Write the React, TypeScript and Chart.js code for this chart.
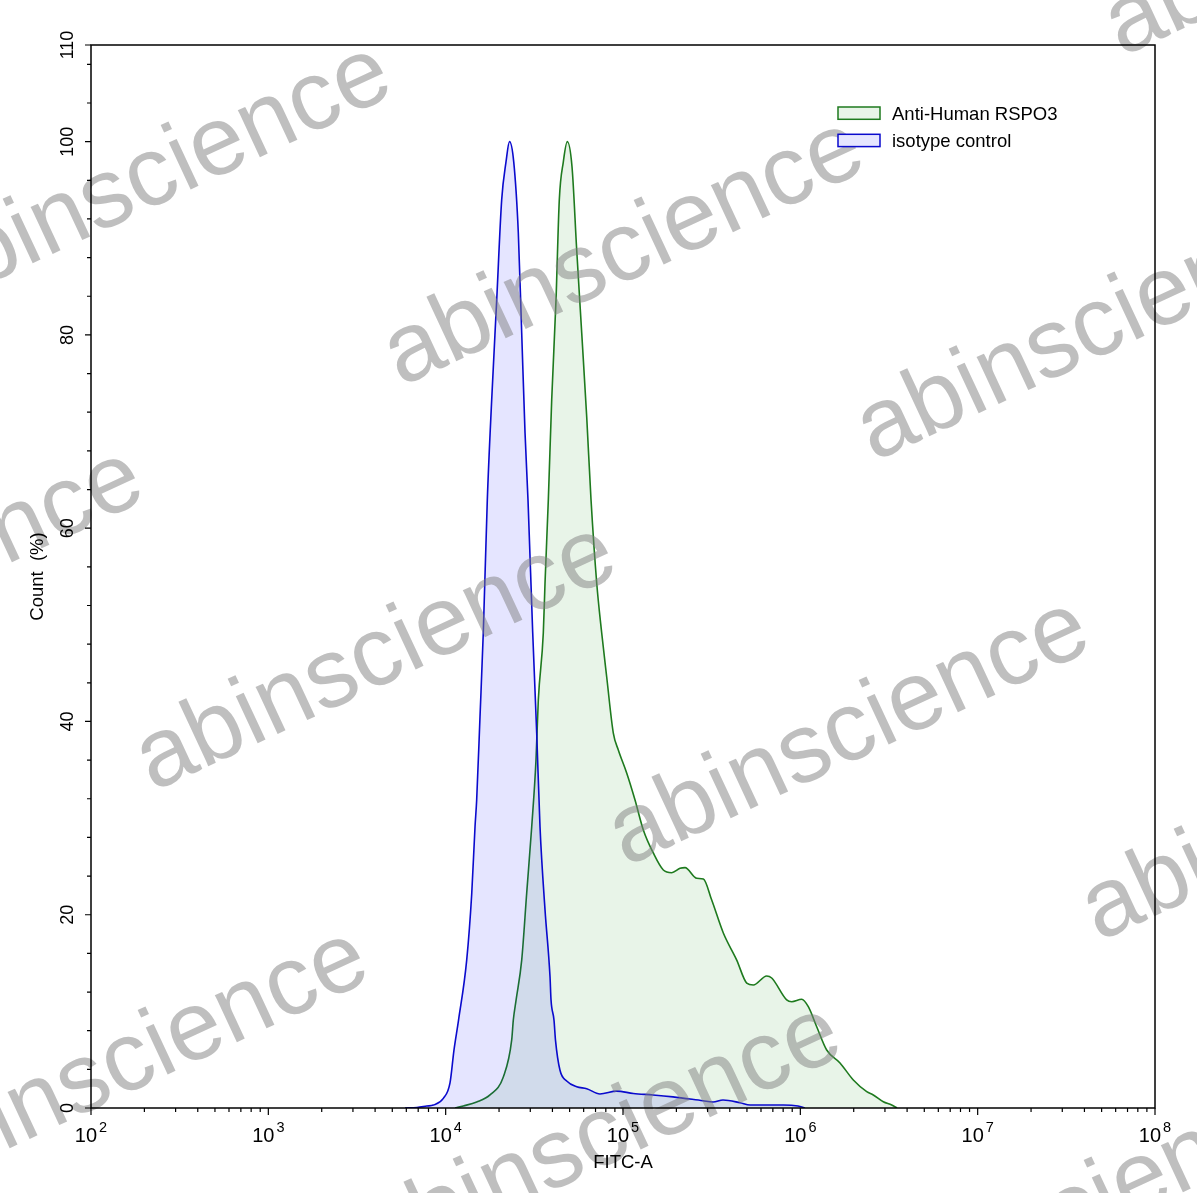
import React, { useEffect, useRef } from 'react';
import { Chart, registerables } from 'chart.js';

Chart.register(...registerables);

// FITC-A intensity (x) and Count (%) (y)
const isotypeX = [5900, 6890, 7820, 8520, 9700, 10580, 11140, 11820, 13140, 14030, 14640, 14960, 15620, 16300, 17170, 18180, 19400, 20700, 21890, 22910, 24200, 25680, 26840, 28020, 29130, 30960, 32610, 34040, 36330, 38760, 39270, 40820, 41630, 44130, 48130, 54820, 62430, 74180, 92140, 114300, 147700, 191400, 282700, 321900, 366400, 456800, 520300, 801700, 970300, 1062000];
const isotypeY = [0, 0.05, 0.2, 0.3, 1.0, 2.6, 6.0, 9.1, 15.3, 22.2, 29.1, 31.9, 40.5, 49.2, 62.9, 73.3, 83.6, 94.0, 97.9, 100, 97.9, 90.6, 80.2, 69.9, 62.9, 49.2, 38.8, 29.1, 20.5, 13.6, 11.2, 9.1, 7.0, 3.9, 2.8, 2.2, 2.0, 1.45, 1.75, 1.5, 1.35, 1.15, 0.75, 0.62, 0.83, 0.55, 0.31, 0.31, 0.2, 0];

const rspo3X = [11290, 12575, 14960, 17780, 21140, 23570, 24070, 24960, 26840, 28640, 30560, 32310, 33300, 35530, 36330, 37920, 39620, 41900, 43730, 46060, 48510, 51590, 54820, 58510, 62430, 66030, 71080, 75840, 80930, 88180, 94090, 104900, 116900, 130200, 148200, 168800, 188300, 209700, 223800, 260500, 283800, 316400, 367900, 437800, 498600, 543000, 646300, 689500, 837800, 894300, 1018000, 1109000, 1237000, 1408000, 1674000, 1990000, 2368000, 2579000, 2937000, 3276000, 3510000];
const rspo3Y = [0, 0.21, 0.62, 1.35, 3.21, 7.04, 9.11, 11.18, 15.31, 22.25, 29.08, 36.01, 42.22, 49.15, 54.33, 62.91, 73.26, 83.61, 93.96, 97.89, 100, 97.37, 88.78, 80.19, 71.5, 62.91, 54.33, 49.15, 44.6, 38.8, 37.05, 34.67, 31.87, 28.77, 26.39, 24.63, 24.35, 24.8, 24.87, 23.77, 23.7, 21.52, 18.11, 15.31, 12.93, 12.73, 13.66, 13.45, 11.18, 11.0, 11.25, 10.48, 8.41, 6.0, 4.66, 2.9, 1.69, 1.35, 0.65, 0.31, 0];

const seriesNames = ['Anti-Human RSPO3', 'isotype control'];
const xTickExponents = [2, 3, 4, 5, 6, 7, 8];
const yTickLabels = [0, 20, 40, 60, 80, 100, 110];
const yMinorStep = 4;
const xTitle = 'FITC-A';
const yTitle = 'Count  (%)';
const watermark = 'abinscience';

const GREEN = 'rgb(30,122,30)';
const GREEN_FILL = 'rgba(0,128,0,0.09)';
const BLUE = 'rgb(10,10,205)';
const BLUE_FILL = 'rgba(0,0,255,0.1)';
const FONT = '"Liberation Sans", Arial, sans-serif';

const axesPlugin = {
  id: 'customAxes',
  afterDraw(chart: any) {
    const { ctx, chartArea: ca, scales } = chart;
    const xs = scales.x;
    const ys = scales.y;
    ctx.save();

    // watermark
    ctx.font = `98px ${FONT}`;
    ctx.fillStyle = 'rgba(128,128,128,0.5)';
    ctx.textAlign = 'left';
    ctx.textBaseline = 'alphabetic';
    const o = { x: 401, y: 387 };
    const a = { x: 473, y: 75 };
    const b = { x: -248, y: 405 };
    for (let i = -2; i <= 3; i++) {
      for (let j = -1; j <= 3; j++) {
        const px = o.x + i * a.x + j * b.x;
        const py = o.y + i * a.y + j * b.y;
        ctx.save();
        ctx.translate(px, py);
        ctx.rotate((-25 * Math.PI) / 180);
        ctx.fillText(watermark, 0, 0);
        ctx.restore();
      }
    }

    // frame
    ctx.strokeStyle = '#000';
    ctx.lineWidth = 1.5;
    ctx.strokeRect(ca.left, ca.top, ca.right - ca.left, ca.bottom - ca.top);

    // y ticks
    ctx.lineWidth = 1.2;
    ctx.beginPath();
    for (let v = 0; v <= 110; v += yMinorStep) {
      const y = ys.getPixelForValue(v);
      const major = yTickLabels.includes(v);
      ctx.moveTo(ca.left, y);
      ctx.lineTo(ca.left - (major ? 6 : 4), y);
    }
    for (const v of yTickLabels) {
      const y = ys.getPixelForValue(v);
      ctx.moveTo(ca.left, y);
      ctx.lineTo(ca.left - 6, y);
    }
    // x ticks
    for (let e = xTickExponents[0]; e < xTickExponents[xTickExponents.length - 1]; e++) {
      for (let m = 1; m <= 9; m++) {
        const x = xs.getPixelForValue(m * Math.pow(10, e));
        ctx.moveTo(x, ca.bottom);
        ctx.lineTo(x, ca.bottom + (m === 1 ? 7 : 4));
      }
    }
    const xLast = xs.getPixelForValue(Math.pow(10, xTickExponents[xTickExponents.length - 1]));
    ctx.moveTo(xLast, ca.bottom);
    ctx.lineTo(xLast, ca.bottom + 7);
    ctx.stroke();

    // y tick labels (rotated)
    ctx.fillStyle = '#000';
    ctx.font = `18px ${FONT}`;
    ctx.textAlign = 'center';
    ctx.textBaseline = 'middle';
    for (const v of yTickLabels) {
      const y = ys.getPixelForValue(v);
      ctx.save();
      ctx.translate(ca.left - 23, y);
      ctx.rotate(-Math.PI / 2);
      ctx.fillText(String(v), 0, 0);
      ctx.restore();
    }

    // x tick labels 10^n
    ctx.textAlign = 'left';
    ctx.textBaseline = 'alphabetic';
    for (const e of xTickExponents) {
      const x = xs.getPixelForValue(Math.pow(10, e));
      ctx.font = `20px ${FONT}`;
      const w1 = ctx.measureText('10').width;
      ctx.font = `14.5px ${FONT}`;
      const w2 = ctx.measureText(String(e)).width;
      const start = x - (w1 + 2 + w2) / 2;
      ctx.font = `20px ${FONT}`;
      ctx.fillText('10', start, ca.bottom + 34);
      ctx.font = `14.5px ${FONT}`;
      ctx.fillText(String(e), start + w1 + 2, ca.bottom + 24);
    }

    // axis titles
    ctx.font = `18.5px ${FONT}`;
    ctx.textAlign = 'center';
    ctx.textBaseline = 'middle';
    ctx.fillText(xTitle, (ca.left + ca.right) / 2, ca.bottom + 55);
    ctx.save();
    ctx.translate(38, (ca.top + ca.bottom) / 2);
    ctx.rotate(-Math.PI / 2);
    ctx.fillText(yTitle, 0, 0);
    ctx.restore();

    // legend
    const items = [
      { label: seriesNames[0], stroke: GREEN, fill: 'rgb(232,244,232)' },
      { label: seriesNames[1], stroke: BLUE, fill: 'rgb(230,230,255)' },
    ];
    ctx.font = `18.5px ${FONT}`;
    ctx.textAlign = 'left';
    ctx.textBaseline = 'alphabetic';
    items.forEach((it, k) => {
      const by = ca.top + 62 + k * 27.3;
      ctx.fillStyle = it.fill;
      ctx.fillRect(ca.left + 747, by, 42, 12.3);
      ctx.strokeStyle = it.stroke;
      ctx.lineWidth = 1.5;
      ctx.strokeRect(ca.left + 747, by, 42, 12.3);
      ctx.fillStyle = '#000';
      ctx.fillText(it.label, ca.left + 801, by + 13);
    });

    ctx.restore();
  },
};

export default function App() {
  const canvasRef = useRef<HTMLCanvasElement | null>(null);

  useEffect(() => {
    const canvas = canvasRef.current;
    if (!canvas) return;
    const chart = new Chart(canvas, {
      type: 'line',
      data: {
        datasets: [
          {
            label: seriesNames[1],
            data: isotypeX.map((x, i) => ({ x, y: isotypeY[i] })),
            borderColor: BLUE,
            backgroundColor: BLUE_FILL,
            borderWidth: 1.6,
            pointRadius: 0,
            fill: 'origin',
            cubicInterpolationMode: 'monotone',
            order: 0,
          },
          {
            label: seriesNames[0],
            data: rspo3X.map((x, i) => ({ x, y: rspo3Y[i] })),
            borderColor: GREEN,
            backgroundColor: GREEN_FILL,
            borderWidth: 1.6,
            pointRadius: 0,
            fill: 'origin',
            cubicInterpolationMode: 'monotone',
            order: 1,
          },
        ],
      },
      options: {
        responsive: false,
        animation: false,
        devicePixelRatio: 1,
        layout: { padding: { left: 91, top: 45, right: 42, bottom: 85 } },
        plugins: { legend: { display: false }, tooltip: { enabled: false } },
        scales: {
          x: {
            type: 'logarithmic',
            min: Math.pow(10, xTickExponents[0]),
            max: Math.pow(10, xTickExponents[xTickExponents.length - 1]),
            display: false,
          },
          y: { type: 'linear', min: 0, max: 110, display: false },
        },
      },
      plugins: [axesPlugin],
    } as any);
    return () => chart.destroy();
  }, []);

  return (
    <div style={{ position: 'absolute', left: 0, top: 0, width: 1197, height: 1193, background: '#fff' }}>
      <canvas ref={canvasRef} width={1197} height={1193} style={{ display: 'block' }} />
    </div>
  );
}
